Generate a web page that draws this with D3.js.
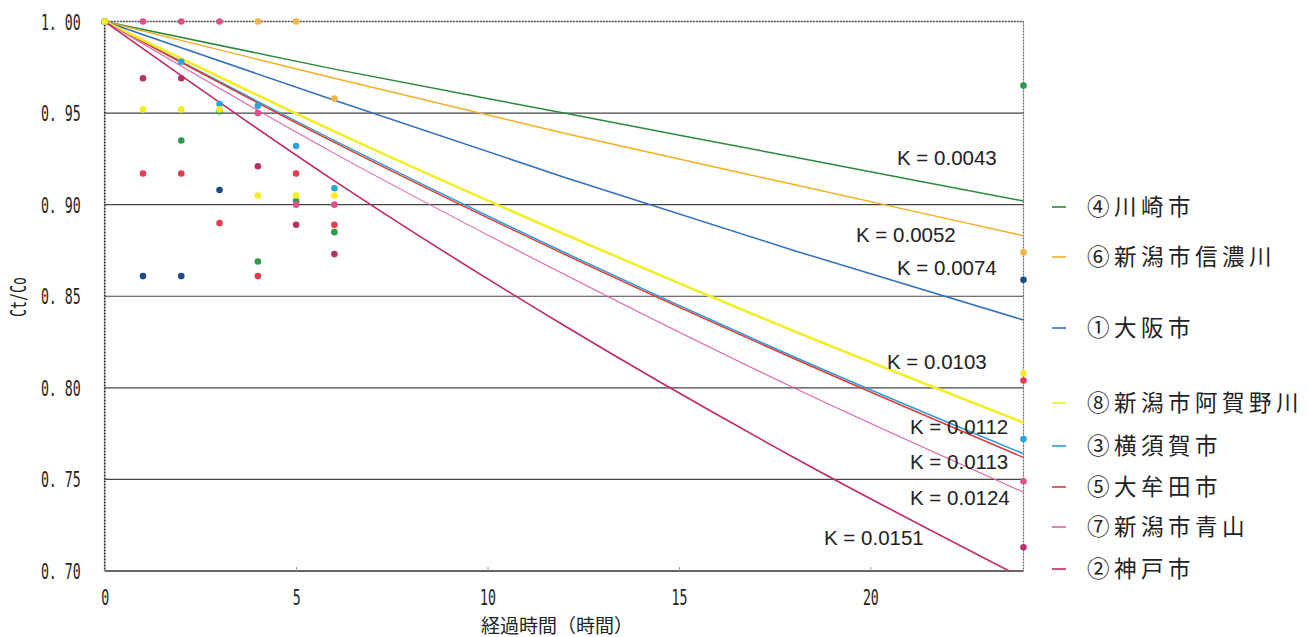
<!DOCTYPE html>
<html>
<head>
<meta charset="utf-8">
<title>Ct/Co</title>
<script src="https://cdn.jsdelivr.net/npm/d3@7"></script>
<style>
  body { margin: 0; background: #fff; }
  .tick-label { font-family: "DejaVu Sans Mono", monospace; font-size: 21px; fill: #222; }
  .k-label { font-family: "Liberation Sans", Arial, sans-serif; font-size: 20.5px; fill: #222; }
  .legend-label { font-family: "Noto Sans CJK JP", sans-serif; font-size: 22.5px; letter-spacing: 4.5px; fill: #222; }
  .axis-title { font-family: "Noto Sans CJK JP", sans-serif; font-size: 19px; fill: #222; }
</style>
</head>
<body>
<script>
// series in legend order
const seriesNames = ["④川崎市", "⑥新潟市信濃川", "①大阪市", "⑧新潟市阿賀野川", "③横須賀市", "⑤大牟田市", "⑦新潟市青山", "②神戸市"];
const kLabels = ["K = 0.0043", "K = 0.0052", "K = 0.0074", "K = 0.0103", "K = 0.0112", "K = 0.0113", "K = 0.0124", "K = 0.0151"];
const lineColors = ["#2a8a3c", "#f2b022", "#2f6fbf", "#f2ee2a", "#2b9fd4", "#e03a3a", "#e060a8", "#c0286a"];
const dotColors = ["#2e9a4a", "#f5b445", "#1f4a8a", "#f2ee20", "#2aa4dc", "#e23e4e", "#e0508c", "#b8306a"];

// fitted curves
const fitTimes = [0, 6, 12, 18, 24];
const fitValues = [
  [1, 0.974, 0.950, 0.926, 0.902],
  [1, 0.969, 0.939, 0.911, 0.883],
  [1, 0.957, 0.915, 0.875, 0.837],
  [1, 0.940, 0.884, 0.831, 0.781],
  [1, 0.935, 0.874, 0.817, 0.764],
  [1, 0.934, 0.873, 0.816, 0.762],
  [1, 0.928, 0.862, 0.800, 0.743],
  [1, 0.913, 0.834, 0.762, 0.696]
];

// measured points (null = not visible)
const obsTimes = [0, 1, 2, 3, 4, 5, 6, 24];
const obsValues = [
  [1, null, 0.935, 0.951, 0.869, 0.902, 0.885, 0.965],
  [1, null, null, null, 1.0, 1.0, 0.958, 0.874],
  [1, 0.861, 0.861, 0.908, null, null, null, 0.859],
  [1, 0.952, 0.952, 0.952, 0.905, 0.905, 0.905, 0.808],
  [1, null, 0.978, 0.955, 0.954, 0.932, 0.909, 0.772],
  [1, 0.917, 0.917, 0.890, 0.861, 0.917, 0.889, 0.804],
  [1, 1.0, 1.0, 1.0, 0.950, 0.900, 0.900, 0.749],
  [1, 0.969, 0.969, null, 0.921, 0.889, 0.873, 0.713]
];

const yTicks = [0.70, 0.75, 0.80, 0.85, 0.90, 0.95, 1.00];
const xTicks = [0, 5, 10, 15, 20];

// layout
let w = 1308, h = 637;
let plotL = 104.7, plotR = 1023.5, plotT = 21.5, plotB = 571;
let svg = d3.select("body").append("svg").attr("width", w).attr("height", h);

let xScale = d3.scaleLinear().domain([0, 24]).range([plotL, plotR]);
let yScale = d3.scaleLinear().domain([0.70, 1.00]).range([plotB, plotT]);

svg.append("clipPath").attr("id", "plot")
  .append("rect").attr("x", plotL).attr("y", plotT - 6).attr("width", plotR - plotL + 6).attr("height", plotB - plotT + 6);

// grid lines
svg.selectAll(".grid")
  .data(yTicks.filter(d => d > 0.71 && d < 0.99))
  .enter().append("line")
  .attr("x1", plotL).attr("x2", plotR)
  .attr("y1", d => yScale(d)).attr("y2", d => yScale(d))
  .attr("stroke", "#444").attr("stroke-width", 1.1);

// frame
svg.append("line").attr("x1", plotL).attr("x2", plotR).attr("y1", plotT).attr("y2", plotT)
  .attr("stroke", "#444").attr("stroke-width", 1.6).attr("stroke-dasharray", "2,1");
svg.append("line").attr("x1", plotR).attr("x2", plotR).attr("y1", plotT).attr("y2", plotB)
  .attr("stroke", "#666").attr("stroke-width", 1.2).attr("stroke-dasharray", "2,1");
svg.append("line").attr("x1", plotL).attr("x2", plotL).attr("y1", plotT).attr("y2", plotB)
  .attr("stroke", "#222").attr("stroke-width", 1.6).attr("stroke-dasharray", "2,1");
svg.append("line").attr("x1", plotL).attr("x2", plotR).attr("y1", plotB).attr("y2", plotB)
  .attr("stroke", "#333").attr("stroke-width", 1.6);

// axes
let yAxis = d3.axisLeft(yScale).tickValues(yTicks).tickSize(0).tickPadding(0)
  .tickFormat(d => d3.format(".2f")(d).replace(".", ". "));
let gy = svg.append("g").attr("transform", "translate(" + plotL + ",0)").call(yAxis);
gy.select(".domain").remove();
gy.selectAll("text")
  .attr("class", "tick-label")
  .attr("x", null).attr("dy", "0.36em")
  .attr("transform", "translate(-24,0) scale(0.63,1)");

let xAxis = d3.axisBottom(xScale).tickValues(xTicks).tickSizeInner(-4).tickSizeOuter(0).tickPadding(0);
let gx = svg.append("g").attr("transform", "translate(0," + plotB + ")").call(xAxis);
gx.select(".domain").remove();
gx.selectAll("line").attr("stroke", "#999");
gx.selectAll("text")
  .attr("class", "tick-label")
  .attr("y", null).attr("dy", null)
  .attr("transform", "translate(0,34) scale(0.63,1)");

svg.append("text").attr("class", "axis-title")
  .attr("x", 557).attr("y", 633).attr("text-anchor", "middle")
  .text("経過時間（時間）");
svg.append("text").attr("class", "tick-label")
  .attr("transform", "translate(26,297) rotate(-90) scale(0.63,1)")
  .attr("text-anchor", "middle")
  .text("Ct/Co");

// fitted lines
let line = d3.line().x(d => xScale(d[0])).y(d => yScale(d[1])).curve(d3.curveMonotoneX);
let lineWidths = [1.5, 1.4, 1.5, 2.6, 1.5, 1.5, 1.1, 1.6];
let lineOrder = [0, 1, 2, 4, 5, 3, 6, 7];
let gl = svg.append("g").attr("clip-path", "url(#plot)");
lineOrder.forEach(i => {
  gl.append("path")
    .datum(fitTimes.map((t, j) => [t, fitValues[i][j]]))
    .attr("d", line)
    .attr("fill", "none")
    .attr("stroke", lineColors[i])
    .attr("stroke-width", lineWidths[i]);
});

// points
let dotOrder = [7, 5, 2, 0, 4, 6, 1, 3];
dotOrder.forEach(i => {
  let pts = obsTimes.map((t, j) => [t, obsValues[i][j]]).filter(d => d[1] !== null);
  svg.append("g").selectAll("circle")
    .data(pts).enter().append("circle")
    .attr("cx", d => xScale(d[0]))
    .attr("cy", d => yScale(d[1]))
    .attr("r", 3.3)
    .attr("fill", dotColors[i]);
});

// K labels
let kPos = [[897, 158], [856, 235], [897, 268], [887, 362], [910, 427], [910, 462], [910, 498], [824, 538]];
kLabels.forEach((k, i) => {
  svg.append("text").attr("class", "k-label")
    .attr("x", kPos[i][0]).attr("y", kPos[i][1]).attr("dy", "0.35em")
    .text(k);
});

// legend
let legendY = [207, 257, 328, 403, 446, 487, 527, 569];
seriesNames.forEach((name, i) => {
  svg.append("line")
    .attr("x1", 1052).attr("x2", 1066)
    .attr("y1", legendY[i]).attr("y2", legendY[i])
    .attr("stroke", lineColors[i]).attr("stroke-width", 1.6);
  svg.append("text").attr("class", "legend-label")
    .attr("x", 1087).attr("y", legendY[i]).attr("dy", "0.36em")
    .text(name);
});
</script>
</body>
</html>
